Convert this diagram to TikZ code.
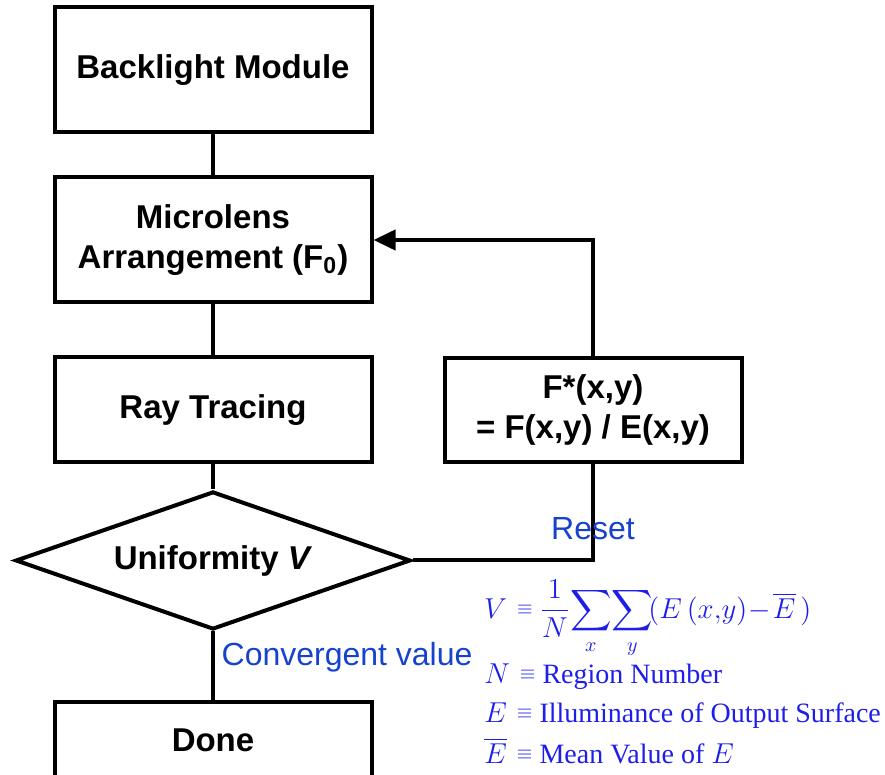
\documentclass[tikz,border=0pt]{standalone}
\usepackage{amsmath}
\usepackage{fontspec}
\setmainfont{Liberation Serif}
\setsansfont{Liberation Sans}
\usetikzlibrary{positioning, arrows.meta, shapes.geometric}

\definecolor{labelblue}{RGB}{22,66,206}
\definecolor{formblue}{RGB}{30,30,235}
\newcommand{\smalleq}{\hspace{5pt}\raisebox{1.8pt}{\fontsize{10}{12}\selectfont$\equiv$}\hspace{3.5pt}}

\begin{document}
\begin{tikzpicture}[
    x=0.5pt, y=-0.5pt,
    font=\sffamily\fontsize{16.5}{20}\selectfont,
    process/.style={rectangle, draw, line width=2pt, font=\sffamily\bfseries\fontsize{16.5}{20}\selectfont, minimum width=158.5pt, minimum height=62.5pt, align=center},
    decision/.style={diamond, draw, line width=2pt, font=\sffamily\bfseries\fontsize{16.5}{20}\selectfont, minimum width=197.5pt, minimum height=69pt, aspect=2.86, inner sep=0pt},
    tag/.style={text=labelblue, font=\sffamily\fontsize{16}{19}\selectfont},
    formula/.style={text=formblue, font=\rmfamily\fontsize{14}{17}\selectfont, anchor=base west, inner sep=0pt},
    link/.style={line width=2pt},
    arrow/.style={line width=2pt, -{Triangle[length=11pt, width=10pt]}}
]
\clip (0,0) rectangle (885,775);

% Nodes
\node[process] (backlight) at (213,70) {Backlight Module};
\node[process, below=20.5pt of backlight] (micro) {Microlens \\ Arrangement (F\textsubscript{0})};
\node[process, below=25.5pt of micro, minimum height=52.5pt] (ray) {Ray Tracing};
\node[process, right=34.5pt of ray, minimum width=148.5pt, minimum height=52pt] (update) {F*(x,y) \\ = F(x,y) / E(x,y)};
\node[decision, below=12.5pt of ray] (unif) {Uniformity \textit{V}};
\node[process, below=34.5pt of unif, minimum height=38pt] (done) {Done};

% Formula
\node[formula] (vdef) at (484,618) {$V$\smalleq$\displaystyle\frac{1}{N}\!\sum_{x}\!\sum_{y}\!(E\,(x,\!y)\!-\!\overline{E}\,)$};
\node[formula] (ndef) at (484,683) {$N$\smalleq Region Number};
\node[formula] (edef) at (484,722) {$E$\smalleq Illuminance of Output Surface};
\node[formula] (ebardef) at (484,763) {$\overline{E}$\smalleq Mean Value of $E$};

% Connections
\draw[link] (backlight) -- (micro);
\draw[link] (micro) -- (ray);
\draw[link] (ray) -- (unif);
\draw[link] (unif) -- node[tag, right, pos=0.37] {Convergent value} (done);
\draw[link] (unif.east) -| node[tag, above=6pt, pos=0.5] {Reset} (update.south);
\draw[arrow] (update.north) |- (micro.east);

\end{tikzpicture}
\end{document}
